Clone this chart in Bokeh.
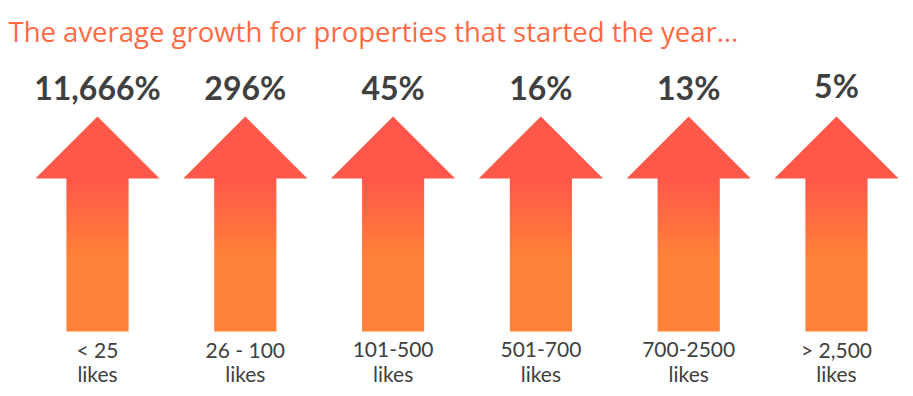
from bokeh.plotting import figure
from bokeh.models import Range1d, Label, ColumnDataSource
from bokeh.core.properties import value
from bokeh.embed import file_html
from bokeh.resources import INLINE

# ---- data ----
title_text = "The average growth for properties that started the year\u2026"
growth_labels = ["11,666%", "296%", "45%", "16%", "13%", "5%"]
like_ranges = ["< 25", "26 - 100", "101-500", "501-700", "700-2500", "> 2,500"]
like_unit = ["likes", "likes", "likes", "likes", "likes", "likes"]

# ---- style constants ----
W, H = 913, 396
RED = (255, 87, 73)
ORANGE = (255, 130, 56)
TEXT = "#404040"
TITLE_COLOR = "#FF6A45"
HEAD_HALF = 0.42
SHAFT_HALF = 0.21
SHAFT_TOP = 153
TIP = 215
GRAD_START = 74  # below this the shaft is fully orange

p = figure(width=W, height=H, output_backend="svg", toolbar_location=None,
           x_axis_location=None, y_axis_location=None,
           x_range=Range1d(-0.6563, 5.5210), y_range=Range1d(-65, 331),
           min_border=0)
p.outline_line_color = None
p.grid.visible = False
p.background_fill_color = "white"
p.border_fill_color = "white"

n = len(growth_labels)
xs = list(range(n))

def hexc(c):
    return "#%02x%02x%02x" % tuple(int(round(v)) for v in c)

# shaft gradient strips
step = 2
l, r, b, t, cols = [], [], [], [], []
for i in xs:
    y = 0
    while y < SHAFT_TOP:
        yt = min(y + step, SHAFT_TOP)
        mid = (y + yt) / 2
        if mid <= GRAD_START:
            f = 0.0
        else:
            f = (mid - GRAD_START) / (SHAFT_TOP - GRAD_START)
        c = tuple(ORANGE[k] + (RED[k] - ORANGE[k]) * f for k in range(3))
        l.append(i - SHAFT_HALF); r.append(i + SHAFT_HALF)
        b.append(y); t.append(min(yt + 0.6, SHAFT_TOP + 0.5))
        cols.append(hexc(c))
        y = yt
p.quad(left=l, right=r, bottom=b, top=t, fill_color=cols, line_color=None)

# arrow heads
hx = [[i - HEAD_HALF, i, i + HEAD_HALF] for i in xs]
hy = [[SHAFT_TOP, TIP, SHAFT_TOP] for _ in xs]
p.patches(hx, hy, fill_color=hexc(RED), line_color=None)

# labels
src = ColumnDataSource(dict(x=xs, g=growth_labels, c=like_ranges, u=like_unit,
                            yv=[244, 244, 244, 244, 244, 246], y1=[-18] * n, y2=[-42] * n))
p.text(x="x", y="yv", text="g", source=src, text_align="center",
       text_baseline="alphabetic", text_font=value("Lato"),
       text_font_style="bold", text_font_size="32px", text_color=TEXT)
p.text(x="x", y="y1", text="c", source=src, text_align="center",
       text_baseline="alphabetic", text_font=value("Lato"),
       text_font_size="21px", text_color=TEXT)
p.text(x="x", y="y2", text="u", source=src, text_align="center",
       text_baseline="alphabetic", text_font=value("Lato"),
       text_font_size="21px", text_color=TEXT)

p.add_layout(Label(x=8, y=H - 31, x_units="screen", y_units="screen",
                   text=title_text, text_font="Open Sans", text_font_size="27.5px",
                   text_color=TITLE_COLOR, text_baseline="alphabetic"))

open("out.html", "w").write(file_html(p, INLINE))
